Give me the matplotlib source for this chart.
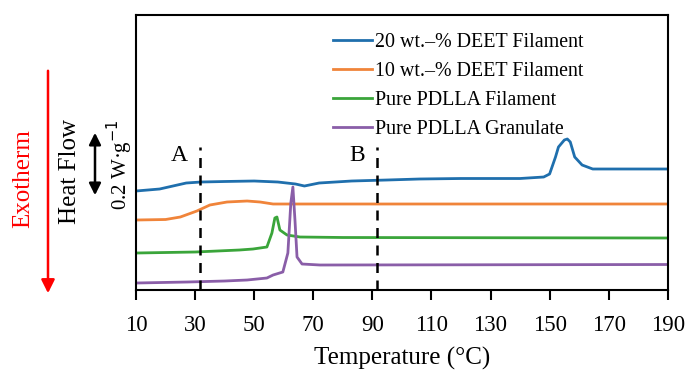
import matplotlib
matplotlib.use("Agg")
import matplotlib.pyplot as plt

# readings from the picture: temperature (°C) and heat flow (arbitrary, offset traces)
blue_t = [10, 18, 27, 32, 40, 50, 58, 64, 67, 72, 83, 95, 106, 120, 140, 148, 150, 152, 153, 155, 156, 157, 158.5, 161, 164.6, 170, 190]
blue_y = [99, 101, 107, 108, 108.5, 109, 108, 106, 104, 107, 109, 110, 111, 111.5, 111.5, 113, 116, 133, 143, 150, 151, 148, 133, 125, 121, 121, 121]

orange_t = [10, 20, 25, 30.6, 35, 40.8, 47.6, 52, 56.4, 60, 190]
orange_y = [70, 70.5, 73, 79, 85, 88, 89, 88, 86, 86, 86]

green_t = [10, 30, 45, 49.6, 54.3, 56, 57, 57.7, 58.7, 61.1, 65.5, 80, 190]
green_y = [37, 38, 40, 41, 43, 57, 72, 73, 60, 55, 53, 52.5, 52]

purple_t = [10, 27.3, 40, 47.6, 54.3, 56.4, 59.7, 61.4, 62.4, 63.1, 63.8, 64.5, 66.2, 72.3, 190]
purple_y = [7, 8, 9, 10, 12, 15, 18, 37, 87, 103, 70, 33, 26, 25, 25.5]

series = [
    ("20 wt.\u2013% DEET Filament", blue_t, blue_y, "#1f6fad"),
    ("10 wt.\u2013% DEET Filament", orange_t, orange_y, "#f0843a"),
    ("Pure PDLLA Filament", green_t, green_y, "#3aa53a"),
    ("Pure PDLLA Granulate", purple_t, purple_y, "#8a5ea8"),
]
x_ticks = list(range(10, 191, 20))
markers = [("A", 31.5), ("B", 91.5)]

plt.rcParams["font.family"] = ["Liberation Serif", "DejaVu Serif"]

fig = plt.figure(figsize=(6.87, 3.72), dpi=100)
ax = fig.add_axes([0.198, 0.2204, 0.774, 0.7393])

for label, t, y, color in series:
    ax.plot(t, y, color=color, linewidth=2, label=label)

for name, t in markers:
    ax.plot([t, t], [0, 143], color="black", linestyle=(0, (4, 3)), linewidth=1.8)
    ax.text(t - 6.8, 135, name, fontsize=17, ha="center", va="center")

ax.set_xlim(10, 190)
ax.set_ylim(0, 275)
ax.set_xticks(x_ticks)
ax.set_yticks([])
ax.tick_params(axis="x", direction="out", length=7, width=1.5, labelsize=16.5, pad=11)
for sp in ax.spines.values():
    sp.set_linewidth(1.5)
ax.set_xlabel("Temperature (\u00b0C)", fontsize=18, labelpad=8)

ax.legend(loc="upper left", bbox_to_anchor=(0.37, 0.935), frameon=False, fontsize=14.4,
          handlelength=1.95, handletextpad=0.15, labelspacing=0.5,
          borderaxespad=0, borderpad=0)

# left-hand annotations
fig.patches.append(matplotlib.patches.FancyArrowPatch(
    (48, 304), (48, 76), transform=None, arrowstyle="-|>,head_length=8,head_width=4",
    color="red", linewidth=1.8))
fig.text(23 / 687, 1 - 179 / 372, "Exotherm", color="red", rotation=90, fontsize=18,
         ha="center", va="center")
fig.text(70 / 687, 1 - 172 / 372, "Heat Flow", rotation=90, fontsize=18,
         ha="center", va="center")
fig.patches.append(matplotlib.patches.FancyArrowPatch(
    (95, 372 - 198), (95, 372 - 130), transform=None,
    arrowstyle="<|-|>,head_length=7,head_width=3.5", color="black", linewidth=1.8))
fig.text(120 / 687, 1 - 165 / 372, "0.2 W\u00b7g$^{-1}$", rotation=90, fontsize=15,
         ha="center", va="center")

fig.savefig("out.png", dpi=100)
